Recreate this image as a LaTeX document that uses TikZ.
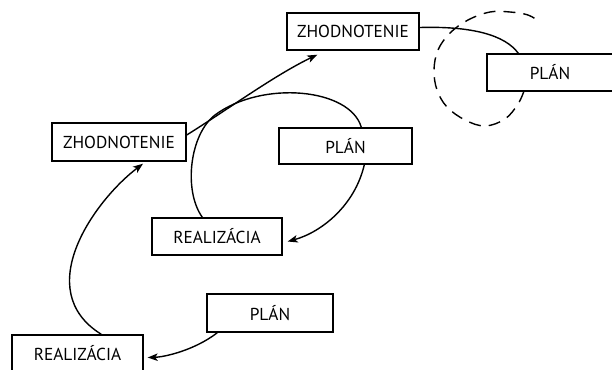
\documentclass[tikz,border=0pt]{standalone}
\usepackage{fontspec}
\setmainfont{PT Sans}
\usetikzlibrary{arrows.meta,calc}
\begin{document}
\begin{tikzpicture}[x=1pt,y=-1pt,
  box/.style={draw, line width=1.4pt, fill=white, minimum height=37pt, inner sep=0pt,
    font=\fontsize{17.3}{20}\selectfont},
  conn/.style={line width=1.4pt},
  arr/.style={conn, -{Stealth[length=10pt,width=7.5pt,inset=2.5pt]}},
  dsh/.style={line width=1.4pt, dash pattern=on 12pt off 8pt}]
\useasboundingbox (0,0) rectangle (612,369);
% dashed loop (behind boxes)
\draw[dsh] plot[smooth, tension=0.6] coordinates {(524,91) (518,104) (505,119) (485,126) (465,120) (447,107) (437,90) (434,70) (438,50) (450,33) (468,20) (490,12) (510,12) (528,15) (540,22)};
% boxes
\node[box, minimum width=131pt] (R1) at (77.5,353.5) {REALIZÁCIA};
\node[box, minimum width=126pt, minimum height=38pt] (P1) at (270,313) {PLÁN};
\node[box, minimum width=130pt] (R2) at (217,236.5) {REALIZÁCIA};
\node[box, minimum width=133pt, minimum height=36pt] (P2) at (345.5,146) {PLÁN};
\node[box, minimum width=134pt, minimum height=38pt] (Z1) at (119,142) {ZHODNOTENIE};
\node[box, minimum width=132pt] (Z2) at (353,31.5) {ZHODNOTENIE};
\node[box, minimum width=126pt] (P3) at (550,72.5) {PLÁN};
% connectors
\draw[arr] ($(P1.south west)+(11,0)$) .. controls (195,350) and (165,357) .. ($(R1.east)+(4,4)$);
\draw[arr] ($(R1.north west)+(90,0)$) .. controls (30,290) and (95,200) .. ($(Z1.south)+(24,2)$);
\draw[arr] ($(Z1.east)+(0,-7)$) .. controls (230,108) and (275,75) .. ($(Z2.south west)+(31,4)$);
\coordinate (m4) at (215,115);
\draw[conn] ($(P2.north west)+(83,0)$) .. controls (350,88) and (262,80) .. (m4)
  .. controls (190,134) and (183,190) .. ($(R2.north west)+(51,0)$);
\draw[arr] ($(P2.south west)+(86,0)$) .. controls (355,205) and (322,232) .. ($(R2.east)+(5,5)$);
\draw[conn] ($(Z2.east)+(0,-4)$) .. controls (472,26) and (505,35) .. ($(P3.north west)+(32,0)$);
\end{tikzpicture}
\end{document}
